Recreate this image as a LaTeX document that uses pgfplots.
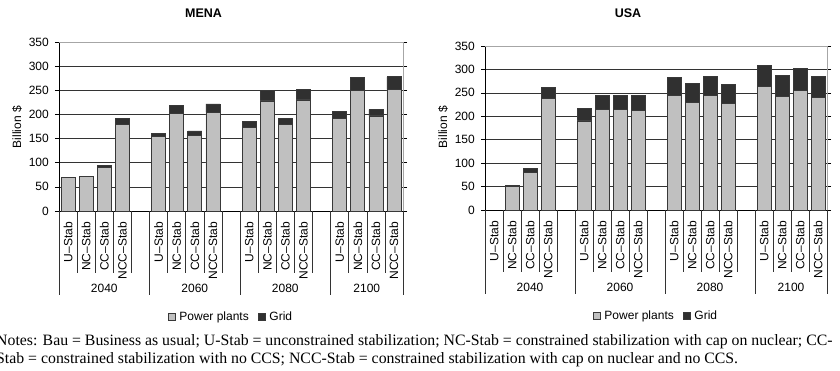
\documentclass[border=0pt]{standalone}
\usepackage{fontspec}
\setmainfont{Liberation Serif}
\setsansfont{Liberation Sans}
\usepackage{pgfplots}
\usepackage{pgfplotstable}
\pgfplotsset{compat=1.18}

\definecolor{plantfill}{HTML}{C0C0C0}
\definecolor{gridfill}{HTML}{303030}
\definecolor{baredge}{HTML}{383838}
\definecolor{framegray}{HTML}{A6A6A6}

% investment by scenario (Billion $): power plants and grid, stacked
\pgfplotstableread{
x pp grid
0 70 0
1 72 0
2 91 3
3 180 12
5 154 7
6 202 17
7 156 10
8 205 17
10 173 12
11 228 22
12 180 12
13 230 22
15 191 15
16 250 26
17 197 13
18 252 26
}\mena

\pgfplotstableread{
x pp grid
0 0 0
1 50 3
2 81 8
3 239 22
5 190 27
6 215 30
7 215 30
8 213 32
10 245 38
11 230 40
12 245 40
13 228 40
15 263 46
16 243 45
17 256 46
18 240 45
}\usa

\newcommand\lab{\fontsize{12}{13.5}\selectfont\sffamily}

\pgfplotsset{
  stabchart/.style={
    scale only axis,
    ymin=0, ymax=350, xmin=-0.5, xmax=18.5,
    ytick={0,50,...,350},
    ymajorgrids, grid style={black!80, line width=0.5pt},
    axis line style={draw=none},
    tick align=outside, major tick length=4pt,
    ytick style={black, line width=0.5pt},
    xtick={0,1,2,3,5,6,7,8,10,11,12,13,15,16,17,18},
    xticklabels={U--Stab,NC--Stab,CC--Stab,NCC--Stab,
                 U--Stab,NC--Stab,CC--Stab,NCC--Stab,
                 U--Stab,NC--Stab,CC--Stab,NCC--Stab,
                 U--Stab,NC--Stab,CC--Stab,NCC--Stab},
    x tick style={draw=none},
    x tick label style={rotate=90, anchor=east, inner sep=0pt, font=\lab},
    xticklabel shift=7pt,
    y tick label style={font=\lab, inner sep=0pt},
    yticklabel shift=6pt,
    /pgf/number format/assume math mode=true,
    ybar stacked, bar width=14pt,
    clip=false,
    legend columns=2,
    legend style={draw=none, fill=none, font=\lab,
      at={(axis description cs:0.5,0)}, anchor=center, yshift=-106pt,
      /tikz/every odd column/.append style={column sep=2pt},
      /tikz/every even column/.append style={column sep=7pt},
      inner sep=0pt, row sep=0pt},
    legend image code/.code={\draw[#1] (0pt,-3.5pt) rectangle (7pt,3.5pt);},
  },
  plants/.style={fill=plantfill, draw=baredge, line width=0.6pt},
  gridpart/.style={fill=gridfill, draw=baredge, line width=0.6pt},
}

% category separators and group labels beneath each chart
\newcommand\catframe{%
  \pgfplotsinvokeforeach{0.5,1.5,2.5,3.5,5.5,6.5,7.5,8.5,10.5,11.5,12.5,13.5,15.5,16.5,17.5}{
    \draw[black!80, line width=0.5pt] (axis cs:##1,0) -- ([yshift=-62pt]axis cs:##1,0);}
  \pgfplotsinvokeforeach{-0.5,4.5,9.5,14.5,18.5}{
    \draw[black!80, line width=0.5pt] (axis cs:##1,0) -- ([yshift=-84pt]axis cs:##1,0);}
  \draw[framegray, line width=0.6pt] (rel axis cs:0,1) -- (rel axis cs:1,1) -- (rel axis cs:1,0);
  \draw[black, line width=0.6pt] (rel axis cs:0,1) -- (rel axis cs:0,0) -- (rel axis cs:1,0);
  \node[font=\lab] at ([yshift=-77pt]axis cs:2,0) {2040};
  \node[font=\lab] at ([yshift=-77pt]axis cs:7,0) {2060};
  \node[font=\lab] at ([yshift=-77pt]axis cs:12,0) {2080};
  \node[font=\lab] at ([yshift=-77pt]axis cs:16.5,0) {2100};
}

\begin{document}
\begin{tikzpicture}[x=1pt, y=1pt]
\useasboundingbox (0pt,0pt) rectangle (840pt,370pt);

\node[font=\fontsize{12.5}{14}\selectfont\sffamily\bfseries] at (203.5pt,357pt) {MENA};
\node[font=\fontsize{12.5}{14}\selectfont\sffamily\bfseries] at (628pt,357pt) {USA};
\node[rotate=90, font=\lab] at (17pt,243pt) {Billion \$};
\node[rotate=90, font=\lab] at (443pt,243pt) {Billion \$};

\begin{axis}[stabchart, at={(59pt,159pt)}, anchor=south west, width=344pt, height=169pt]
  \addplot[plants] table[x=x, y=pp] {\mena};
  \addplot[gridpart] table[x=x, y=grid] {\mena};
  \legend{Power plants, Grid}
  \catframe
\end{axis}

\begin{axis}[stabchart, at={(485pt,160pt)}, anchor=south west, width=342pt, height=164pt]
  \addplot[plants] table[x=x, y=pp] {\usa};
  \addplot[gridpart] table[x=x, y=grid] {\usa};
  \legend{Power plants, Grid}
  \catframe
\end{axis}

\node[anchor=base west, inner sep=0pt, font=\fontsize{15.8}{18}\selectfont] at (-4pt,25pt)
  {Notes: Bau = Business as usual; U-Stab = unconstrained stabilization; NC-Stab = constrained stabilization with cap on nuclear; CC-};
\node[anchor=base west, inner sep=0pt, font=\fontsize{15.8}{18}\selectfont] at (-4pt,7pt)
  {Stab = constrained stabilization with no CCS; NCC-Stab = constrained stabilization with cap on nuclear and no CCS.};
\end{tikzpicture}
\end{document}
